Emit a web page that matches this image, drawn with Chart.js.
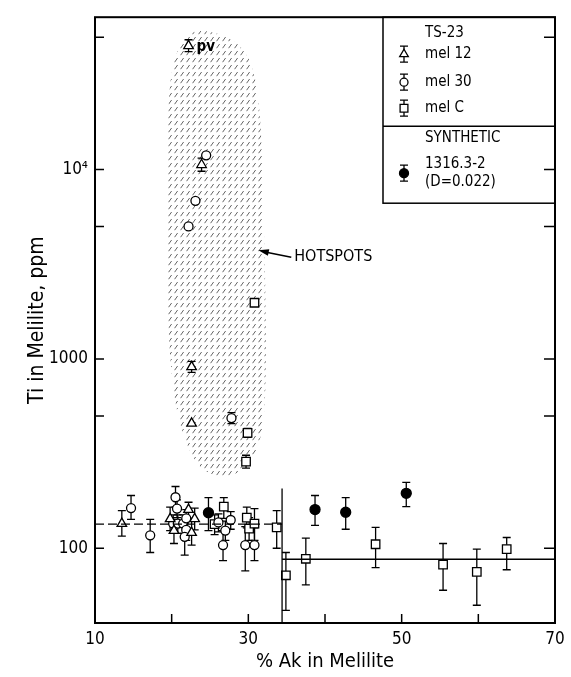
<!DOCTYPE html>
<html>
<head>
<meta charset="utf-8">
<script src="https://cdn.jsdelivr.net/npm/chart.js@4.4.1/dist/chart.umd.min.js"></script>
<style>
  html, body { margin: 0; padding: 0; background: #fff; }
  canvas { display: block; }
</style>
</head>
<body>
<canvas id="chart" width="571" height="677"></canvas>
<script>
const FONT = '"Liberation Sans Narrow", "DejaVu Sans Condensed", "Liberation Sans", sans-serif';

// axis ticks
const xTickVals = [10, 20, 30, 40, 50, 60, 70];
const xTickText = ["10", "", "30", "", "50", "", "70"];
const yTickVals = [100, 500, 1000, 5000, 10000, 50000];
const yTickText = ["100", "", "1000", "", "10⁴", ""];

// TS-23 mel 12 (open triangles)
const mel12X  = [13.5, 19.8, 22.2, 23.0, 20.3, 22.6, 22.2, 23.9, 22.6, 22.6];
const mel12Y  = [135, 143, 160, 143, 124, 121, 45000, 10600, 908, 457];
const mel12Lo = [116, 124, 144, 125, 106, 104, 42000, 9800, 850, 457];
const mel12Hi = [158, 165, 175, 163, 142, 140, 48500, 11500, 970, 457];

// TS-23 mel 30 (open circles)
const mel30X  = [14.7, 17.2, 20.5, 20.7, 20.2, 20.8, 21.5, 21.9, 21.9, 21.7, 26.1, 26.7, 27.0, 27.7, 29.6, 30.8, 24.5, 23.1, 22.2, 27.8];
const mel30Y  = [163, 117, 186, 162, 135, 135, 135, 144, 125, 115, 137, 104, 124, 141, 104, 104, 11900, 6840, 5010, 487];
const mel30Lo = [142, 95, 165, 145, 120, 120, 120, 128, 110, 92, 122, 86, 110, 126, 76, 86, 11900, 6840, 5010, 455];
const mel30Hi = [190, 142, 212, 180, 150, 150, 150, 160, 140, 135, 152, 124, 139, 156, 130, 128, 11900, 6840, 5010, 520];

// TS-23 mel C (open squares)
const melCX  = [26.8, 25.6, 29.8, 30.1, 30.8, 33.7, 34.9, 37.5, 46.6, 55.4, 59.8, 63.7, 30.8, 29.9, 29.7];
const melCY  = [166, 134, 145, 127, 135, 129, 72, 88, 105, 82, 75, 99, 1980, 407, 287];
const melCLo = [144, 118, 128, 110, 110, 100, 47, 64, 79, 60, 50, 77, 1980, 385, 265];
const melCHi = [185, 150, 165, 145, 162, 158, 95, 113, 129, 106, 99, 114, 1980, 430, 310];

// synthetic 1316.3-2 (filled circles)
const synX  = [24.8, 38.7, 42.7, 50.6];
const synY  = [154, 160, 155, 195];
const synLo = [124, 132, 126, 166];
const synHi = [185, 190, 185, 223];

// reference lines
const dashX = [10, 34.4];
const dashY = [134, 134];
const solidX = [34.4, 70];
const solidY = [87.5, 87.5];
const vertX = [34.4, 34.4];
const vertY = [40.3, 207];

// hotspot region outline (data units)
const hotX = [22.99, 25.58, 28.18, 30.13, 31.17, 31.69, 31.95, 32.21, 32.34, 32.08, 31.17, 29.48, 26.88, 24.29, 22.6, 21.3, 20.26, 19.61, 19.35, 19.35, 19.48, 20.0, 21.3];
const hotY = [54500, 53300, 48300, 39300, 27400, 15850, 6790, 2570, 976, 472, 328, 257, 237, 251, 308, 418, 639, 1245, 3280, 8650, 20200, 34800, 48300];

function pts(xs, ys) {
  return xs.map((x, i) => ({ x: x, y: ys[i] }));
}

// short slanted dashes, like the printed screen
const hatch = (() => {
  const c = document.createElement("canvas");
  c.width = 6; c.height = 7;
  const g = c.getContext("2d");
  g.strokeStyle = "#555";
  g.lineWidth = 0.9;
  g.beginPath(); g.moveTo(0.6, 6.2); g.lineTo(3.6, 2.0); g.stroke();
  return c;
})();

function markerDataset(label, xs, ys, lo, hi, style, radius, fill) {
  return {
    label: label,
    data: pts(xs, ys),
    pointStyle: style,
    pointRadius: radius,
    pointBackgroundColor: fill,
    pointBorderColor: "#000",
    pointBorderWidth: 1.3,
    errLo: lo,
    errHi: hi,
  };
}

function lineDataset(xs, ys, dash) {
  return {
    data: pts(xs, ys),
    showLine: true,
    borderColor: "#000",
    borderWidth: 1.3,
    borderDash: dash,
    pointRadius: 0,
  };
}

function drawMark(ctx, style, r, fill, x, y) {
  ctx.save();
  ctx.fillStyle = fill;
  ctx.strokeStyle = "#000";
  ctx.lineWidth = 1.3;
  Chart.helpers.drawPoint(ctx, { pointStyle: style, radius: r, rotation: 0, borderWidth: 1.3 }, x, y);
  ctx.restore();
}

function errBar(ctx, x, y1, y2, cap) {
  ctx.beginPath();
  ctx.moveTo(x, y1); ctx.lineTo(x, y2);
  ctx.moveTo(x - cap, y1); ctx.lineTo(x + cap, y1);
  ctx.moveTo(x - cap, y2); ctx.lineTo(x + cap, y2);
  ctx.stroke();
}

const underlay = {
  id: "underlay",
  beforeDatasetsDraw(chart) {
    const { ctx, chartArea, scales } = chart;
    const xs = scales.x, ys = scales.y;
    ctx.save();
    ctx.beginPath();
    ctx.rect(chartArea.left, chartArea.top, chartArea.right - chartArea.left, chartArea.bottom - chartArea.top);
    ctx.clip();

    // hatched hotspot region
    const p = hotX.map((x, i) => [xs.getPixelForValue(x), ys.getPixelForValue(hotY[i])]);
    ctx.beginPath();
    const n = p.length;
    const mid = (a, b) => [(a[0] + b[0]) / 2, (a[1] + b[1]) / 2];
    let m0 = mid(p[n - 1], p[0]);
    ctx.moveTo(m0[0], m0[1]);
    for (let i = 0; i < n; i++) {
      const m = mid(p[i], p[(i + 1) % n]);
      ctx.quadraticCurveTo(p[i][0], p[i][1], m[0], m[1]);
    }
    ctx.closePath();
    ctx.fillStyle = ctx.createPattern(hatch, "repeat");
    ctx.fill();

    // error bars
    ctx.strokeStyle = "#000";
    ctx.lineWidth = 1.3;
    chart.data.datasets.forEach((ds) => {
      if (!ds.errLo) return;
      ds.data.forEach((d, i) => {
        if (ds.errLo[i] === ds.errHi[i]) return;
        const px = xs.getPixelForValue(d.x);
        errBar(ctx, px, ys.getPixelForValue(ds.errHi[i]), ys.getPixelForValue(ds.errLo[i]), 4);
      });
    });
    ctx.restore();
  },
};

const overlay = {
  id: "overlay",
  afterDraw(chart) {
    const { ctx, chartArea, scales } = chart;
    const { left, right, top, bottom } = chartArea;
    const xs = scales.x, ys = scales.y;
    ctx.save();
    ctx.strokeStyle = "#000";
    ctx.fillStyle = "#000";

    // frame
    ctx.lineWidth = 2;
    ctx.strokeRect(left, top, right - left, bottom - top);

    // inward tick marks
    ctx.lineWidth = 1.5;
    ctx.beginPath();
    xTickVals.forEach((v) => {
      const px = xs.getPixelForValue(v);
      ctx.moveTo(px, bottom); ctx.lineTo(px, bottom - 9);
    });
    yTickVals.forEach((v) => {
      const py = ys.getPixelForValue(v);
      ctx.moveTo(left, py); ctx.lineTo(left + 9, py);
      ctx.moveTo(right, py); ctx.lineTo(right - 11, py);
    });
    ctx.stroke();

    // "pv" label next to top triangle
    ctx.font = "bold 15px " + FONT;
    ctx.textBaseline = "middle";
    ctx.textAlign = "left";
    ctx.fillText("pv", xs.getPixelForValue(mel12X[6]) + 8, ys.getPixelForValue(mel12Y[6]) + 1);

    // HOTSPOTS label with arrow
    const tx = xs.getPixelForValue(35.6), ty = ys.getPixelForValue(3440);
    const hx = xs.getPixelForValue(31.3), hy = ys.getPixelForValue(3750);
    ctx.font = "16px " + FONT;
    ctx.fillText("HOTSPOTS", tx + 3, ty);
    ctx.lineWidth = 1.5;
    ctx.beginPath(); ctx.moveTo(tx, ty); ctx.lineTo(hx + 8, hy + 2); ctx.stroke();
    const ang = Math.atan2(hy - ty, hx - tx);
    ctx.beginPath();
    ctx.moveTo(hx, hy);
    ctx.lineTo(hx - 11 * Math.cos(ang - 0.3), hy - 11 * Math.sin(ang - 0.3));
    ctx.lineTo(hx - 11 * Math.cos(ang + 0.3), hy - 11 * Math.sin(ang + 0.3));
    ctx.closePath();
    ctx.fill();

    // legend box
    const L = right - 172, T = top;
    ctx.lineWidth = 1.5;
    ctx.strokeRect(L, T, 172, 186);
    ctx.beginPath(); ctx.moveTo(L, T + 109); ctx.lineTo(right, T + 109); ctx.stroke();
    ctx.font = "15px " + FONT;
    ctx.fillStyle = "#000";
    ctx.fillText("TS-23", L + 42, T + 16);
    ctx.fillText("mel 12", L + 42, T + 37);
    ctx.fillText("mel 30", L + 42, T + 65);
    ctx.fillText("mel C", L + 42, T + 91);
    ctx.fillText("SYNTHETIC", L + 42, T + 121);
    ctx.fillText("1316.3-2", L + 42, T + 147);
    ctx.fillText("(D=0.022)", L + 42, T + 165);
    const sx = L + 21;
    ctx.lineWidth = 1.3;
    [[T + 37, "triangle", 5, "#fff"], [T + 65, "circle", 4, "#fff"], [T + 91, "rect", 5.5, "#fff"], [T + 156, "circle", 4.5, "#000"]]
      .forEach(([y, st, r, f]) => {
        errBar(ctx, sx, y - 8, y + 8, 4);
        drawMark(ctx, st, r, f, sx, y);
      });
    ctx.restore();
  },
};

new Chart(document.getElementById("chart"), {
  type: "scatter",
  data: {
    datasets: [
      lineDataset(dashX, dashY, [9, 4]),
      lineDataset(solidX, solidY, []),
      lineDataset(vertX, vertY, []),
      markerDataset("mel 12", mel12X, mel12Y, mel12Lo, mel12Hi, "triangle", 5.5, "#fff"),
      markerDataset("mel 30", mel30X, mel30Y, mel30Lo, mel30Hi, "circle", 4.5, "#fff"),
      markerDataset("mel C", melCX, melCY, melCLo, melCHi, "rect", 6, "#fff"),
      markerDataset("1316.3-2", synX, synY, synLo, synHi, "circle", 5, "#000"),
    ],
  },
  options: {
    responsive: false,
    animation: false,
    layout: { padding: { left: 0, top: 17, right: 16, bottom: 0 } },
    plugins: { legend: { display: false }, tooltip: { enabled: false } },
    scales: {
      x: {
        type: "linear",
        min: 10,
        max: 70,
        afterBuildTicks: (s) => { s.ticks = xTickVals.map((v) => ({ value: v })); },
        afterFit: (s) => { s.height = 54; },
        grid: { display: false, drawTicks: false },
        border: { display: false },
        ticks: {
          autoSkip: false,
          maxRotation: 0,
          padding: 6,
          color: "#000",
          font: { family: FONT, size: 17 },
          callback: (v, i) => xTickText[i],
        },
        title: {
          display: true,
          text: "% Ak in Melilite",
          color: "#000",
          font: { family: FONT, size: 20 },
          padding: { top: 0, bottom: 3 },
        },
      },
      y: {
        type: "logarithmic",
        min: 40.3,
        max: 63800,
        afterBuildTicks: (s) => { s.ticks = yTickVals.map((v) => ({ value: v })); },
        afterFit: (s) => { s.width = 95; },
        grid: { display: false, drawTicks: false },
        border: { display: false },
        ticks: {
          autoSkip: false,
          padding: 7,
          color: "#000",
          font: { family: FONT, size: 17 },
          callback: (v, i) => yTickText[i],
        },
        title: {
          display: true,
          text: "Ti in Melilite, ppm",
          color: "#000",
          font: { family: FONT, size: 21 },
          padding: { top: 25, bottom: 0 },
        },
      },
    },
  },
  plugins: [underlay, overlay],
});
</script>
</body>
</html>
